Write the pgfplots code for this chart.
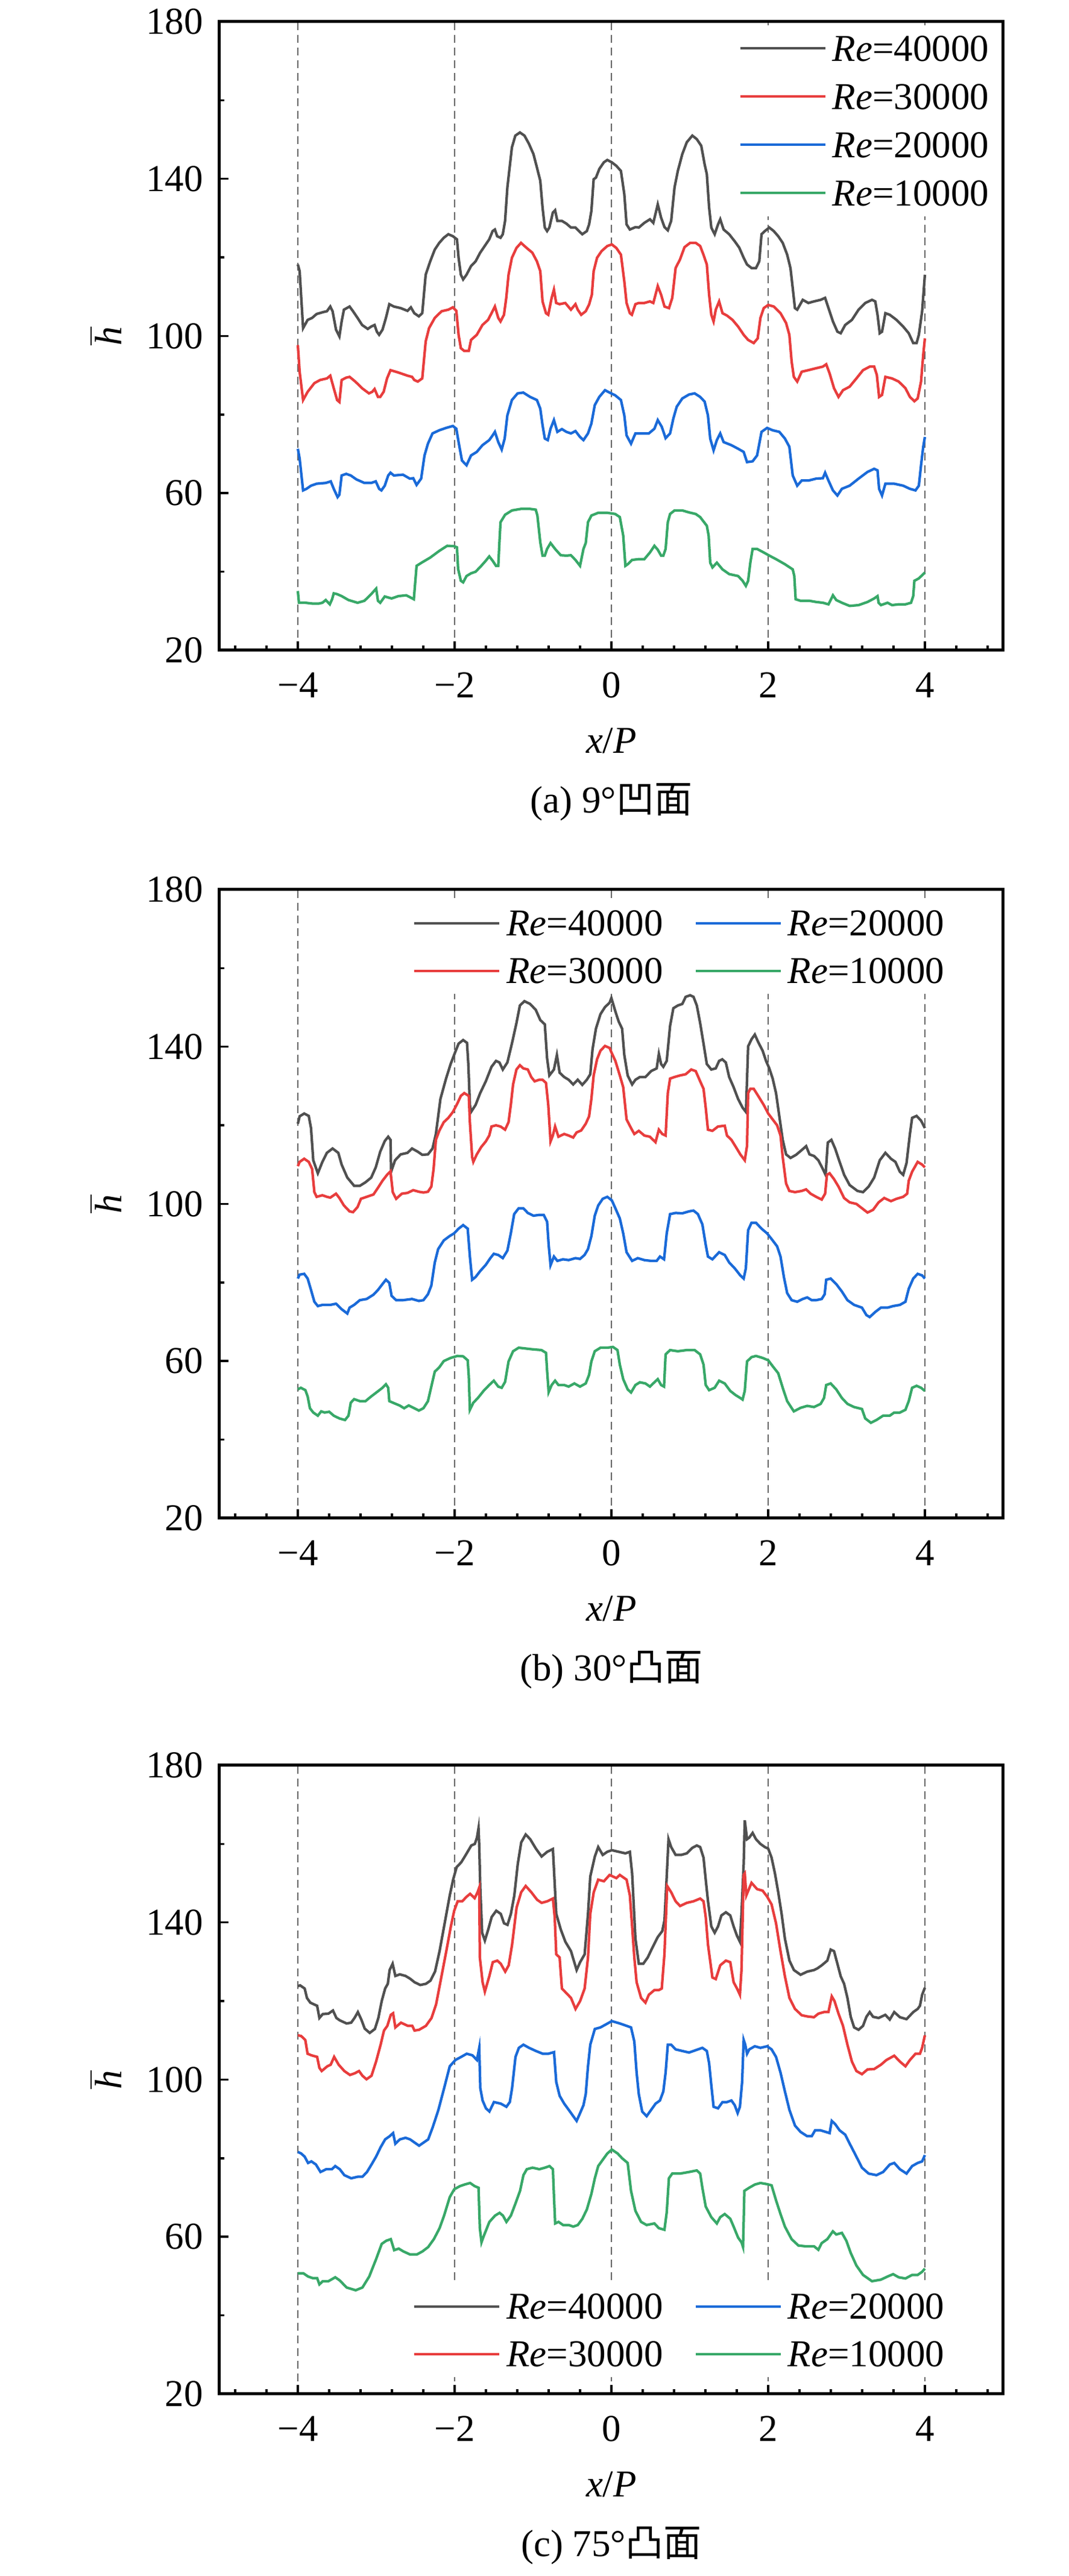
\documentclass[border=0pt]{standalone}
\usepackage{fontspec}
\setmainfont{Liberation Serif}
\newfontfamily\cjk{Noto Sans CJK SC}
\usepackage{pgfplots}
\pgfplotsset{compat=1.18}
\definecolor{cK}{RGB}{80,80,80}
\definecolor{cR}{RGB}{232,61,61}
\definecolor{cB}{RGB}{26,106,216}
\definecolor{cG}{RGB}{56,168,104}
\pgfplotsset{
  panel/.style={
    scale only axis, width=260pt, height=208.6pt,
    anchor=north west,
    xmin=-5, xmax=5, ymin=20, ymax=180,
    xtick={-4,-2,0,2,4}, xticklabels={−4,−2,0,2,4},
    minor xtick={-4.8,-4.4,-3.6,-3.2,-2.8,-2.4,-1.6,-1.2,-0.8,-0.4,0.4,0.8,1.2,1.6,2.4,2.8,3.2,3.6,4.4,4.8},
    ytick={20,60,100,140,180}, yticklabels={20,60,100,140,180},
    minor ytick={40,80,120,160},
    tick pos=left, tick align=inside,
    major tick length=3pt, minor tick length=1.6pt,
    major tick style={black,line width=0.7pt},
    minor tick style={black,line width=0.7pt},
    axis line style={line width=1pt},
    xmajorgrids,
    major grid style={draw=black!60, line width=0.5pt, dash pattern=on 2.6pt off 1.6pt},
    xticklabel style={yshift=-3pt},
    yticklabel style={xshift=-1pt},
    xlabel={\textit{x}/\textit{P}},
    xlabel style={at={(axis description cs:0.5,-0.1438)}, anchor=center},
    ylabel={$\overline{\mbox{\textit{h}}}$},
    ylabel style={at={(axis description cs:-0.1454,0.5)}, anchor=center},
    legend cell align=left,
    legend image code/.code={\draw[#1,line width=0.8pt] (0pt,0pt) -- (28.2pt,0pt);},
  },
  leg/.style={legend style={draw=none, fill=white, inner xsep=3pt, inner ysep=3.5pt,
      nodes={inner sep=0pt, text height=8.3pt, text depth=0pt},
      column sep=2pt, row sep=#1}},
  two/.style={legend columns=2, legend transposed=true,
      legend style={/tikz/every even column/.append style={column sep=10.4pt}}},
  every axis plot/.append style={line width=0.85pt},
}
\begin{document}\fontsize{12.6pt}{15pt}\selectfont
\begin{tikzpicture}
\useasboundingbox (0,0) rectangle (354.4pt,854.8pt);
% ---------------- (a)
\begin{axis}[panel, name=pa, at={(72.8pt,847.6pt)}, leg=7.7pt,
  legend style={at={(0.994,0.995)}, anchor=north east}]
\addplot[cK] coordinates {(-4.000,118.2)(-3.977,116.5)(-3.933,102.0)(-3.875,104.1)(-3.818,104.6)(-3.760,105.6)(-3.673,106.1)(-3.629,106.3)(-3.586,107.5)(-3.557,106.3)(-3.513,101.6)(-3.470,99.9)(-3.441,103.7)(-3.412,106.7)(-3.340,107.5)(-3.296,106.3)(-3.238,104.6)(-3.180,102.8)(-3.108,101.8)(-3.064,102.4)(-3.021,102.8)(-2.992,101.1)(-2.963,100.3)(-2.920,101.6)(-2.876,104.6)(-2.833,108.1)(-2.775,107.5)(-2.688,107.1)(-2.601,106.4)(-2.558,107.3)(-2.514,105.8)(-2.456,105.0)(-2.413,105.8)(-2.369,115.6)(-2.311,119.0)(-2.253,122.0)(-2.196,123.7)(-2.138,125.0)(-2.080,125.9)(-2.022,125.4)(-1.970,124.6)(-1.949,119.9)(-1.920,115.6)(-1.891,114.4)(-1.848,115.6)(-1.790,117.8)(-1.732,119.0)(-1.674,121.2)(-1.616,122.9)(-1.558,124.6)(-1.515,126.7)(-1.486,127.1)(-1.457,125.4)(-1.414,125.0)(-1.385,125.9)(-1.356,129.3)(-1.327,137.8)(-1.298,142.9)(-1.269,148.0)(-1.225,151.0)(-1.167,151.8)(-1.109,151.0)(-1.051,148.9)(-0.994,146.3)(-0.950,142.9)(-0.907,139.5)(-0.878,132.7)(-0.849,127.6)(-0.820,126.7)(-0.791,127.6)(-0.747,131.4)(-0.718,132.0)(-0.689,129.3)(-0.631,129.3)(-0.574,128.6)(-0.516,127.6)(-0.458,127.6)(-0.414,126.7)(-0.371,125.9)(-0.313,126.7)(-0.284,128.4)(-0.255,131.8)(-0.226,139.9)(-0.197,140.3)(-0.154,142.5)(-0.096,144.2)(-0.052,144.8)(0.006,144.2)(0.064,143.3)(0.122,142.0)(0.165,136.1)(0.194,128.4)(0.236,127.1)(0.307,127.7)(0.350,127.6)(0.421,128.8)(0.492,129.7)(0.535,128.8)(0.592,133.5)(0.635,130.1)(0.678,127.7)(0.720,126.9)(0.763,129.3)(0.806,137.8)(0.848,142.0)(0.905,146.3)(0.962,149.3)(1.033,151.0)(1.090,150.1)(1.147,148.4)(1.190,143.7)(1.218,141.2)(1.247,132.7)(1.275,127.6)(1.318,125.9)(1.361,128.4)(1.389,129.7)(1.432,127.1)(1.503,125.9)(1.574,124.1)(1.631,122.5)(1.688,119.9)(1.731,118.2)(1.788,117.3)(1.845,117.3)(1.887,119.0)(1.916,125.9)(1.958,126.7)(2.015,127.6)(2.072,126.7)(2.129,125.4)(2.186,123.7)(2.243,120.7)(2.285,117.3)(2.314,112.2)(2.342,107.1)(2.371,106.7)(2.442,109.2)(2.513,108.4)(2.585,108.8)(2.670,109.2)(2.727,109.7)(2.770,107.1)(2.827,103.7)(2.884,101.1)(2.926,100.7)(2.983,102.8)(3.069,104.1)(3.154,106.7)(3.239,108.4)(3.325,109.2)(3.367,108.8)(3.396,105.4)(3.424,100.7)(3.453,101.1)(3.496,105.8)(3.552,105.4)(3.638,104.1)(3.723,102.4)(3.794,100.7)(3.851,98.2)(3.894,98.2)(3.923,100.3)(3.965,106.3)(4.000,115.6)};
\addlegendentry{\textit{Re}=40000}
\addplot[cR] coordinates {(-4.000,97.7)(-3.977,90.9)(-3.933,83.7)(-3.875,85.8)(-3.789,88.0)(-3.716,88.8)(-3.629,89.2)(-3.586,89.9)(-3.542,86.7)(-3.499,83.7)(-3.470,83.2)(-3.441,88.8)(-3.383,89.4)(-3.340,89.6)(-3.267,88.4)(-3.180,86.7)(-3.093,85.4)(-3.050,85.8)(-3.021,86.5)(-2.978,84.5)(-2.949,84.5)(-2.905,85.8)(-2.862,89.2)(-2.818,91.3)(-2.717,90.7)(-2.601,89.9)(-2.543,89.6)(-2.514,88.8)(-2.470,88.4)(-2.413,89.2)(-2.369,98.6)(-2.326,102.0)(-2.253,104.6)(-2.166,106.3)(-2.080,106.7)(-2.022,107.3)(-1.978,106.4)(-1.949,100.3)(-1.920,96.9)(-1.877,96.2)(-1.819,96.2)(-1.790,99.0)(-1.717,100.3)(-1.645,102.8)(-1.573,104.1)(-1.529,105.8)(-1.486,107.5)(-1.443,104.6)(-1.414,103.7)(-1.370,105.4)(-1.341,109.7)(-1.312,115.6)(-1.269,119.9)(-1.211,122.4)(-1.153,123.7)(-1.080,122.4)(-1.008,121.2)(-0.950,119.0)(-0.907,116.5)(-0.878,108.8)(-0.834,105.8)(-0.805,105.4)(-0.762,109.7)(-0.733,111.8)(-0.704,108.4)(-0.660,108.1)(-0.588,108.4)(-0.516,106.7)(-0.458,108.1)(-0.429,106.7)(-0.385,105.4)(-0.327,106.3)(-0.284,108.0)(-0.249,110.5)(-0.226,116.5)(-0.183,119.9)(-0.125,121.6)(-0.052,122.9)(0.006,123.3)(0.064,122.4)(0.122,120.7)(0.165,113.9)(0.194,108.4)(0.236,105.8)(0.262,105.4)(0.307,108.1)(0.350,108.4)(0.421,108.4)(0.492,108.8)(0.535,108.4)(0.592,112.7)(0.635,110.5)(0.678,107.5)(0.735,107.1)(0.777,109.7)(0.820,117.3)(0.876,119.5)(0.933,122.6)(1.005,123.7)(1.076,123.7)(1.133,122.9)(1.175,120.7)(1.218,118.2)(1.247,110.5)(1.275,105.4)(1.304,103.7)(1.332,106.7)(1.375,108.8)(1.418,105.8)(1.475,105.2)(1.546,104.1)(1.617,102.4)(1.688,100.3)(1.745,99.0)(1.816,98.2)(1.867,99.4)(1.902,104.6)(1.944,107.1)(2.001,107.9)(2.072,107.5)(2.158,105.8)(2.229,103.3)(2.271,100.3)(2.300,93.5)(2.328,89.6)(2.371,88.4)(2.428,90.9)(2.513,91.3)(2.613,91.8)(2.698,92.2)(2.741,92.8)(2.784,90.5)(2.841,86.7)(2.898,84.5)(2.955,86.2)(3.040,87.1)(3.126,89.2)(3.211,91.3)(3.296,92.2)(3.353,92.2)(3.387,90.1)(3.416,84.5)(3.453,85.0)(3.496,89.6)(3.581,89.2)(3.666,88.4)(3.752,86.7)(3.809,84.5)(3.866,83.4)(3.908,84.1)(3.951,88.4)(3.979,95.2)(4.000,99.4)};
\addlegendentry{\textit{Re}=30000}
\addplot[cB] coordinates {(-4.000,71.3)(-3.977,68.8)(-3.933,60.7)(-3.890,61.1)(-3.832,61.9)(-3.760,62.4)(-3.644,62.6)(-3.580,63.0)(-3.542,61.1)(-3.493,59.0)(-3.470,59.6)(-3.441,64.5)(-3.383,64.9)(-3.325,64.5)(-3.253,63.5)(-3.151,62.6)(-3.064,62.6)(-3.006,63.0)(-2.963,61.1)(-2.934,60.7)(-2.891,61.9)(-2.847,64.5)(-2.818,65.2)(-2.775,64.5)(-2.659,64.7)(-2.572,63.7)(-2.528,63.8)(-2.485,62.1)(-2.427,63.7)(-2.384,69.6)(-2.340,72.6)(-2.282,75.2)(-2.196,76.0)(-2.109,76.6)(-2.022,77.1)(-1.978,76.4)(-1.949,73.0)(-1.906,68.3)(-1.848,67.1)(-1.790,69.6)(-1.717,70.5)(-1.645,72.2)(-1.558,73.5)(-1.515,74.7)(-1.486,75.6)(-1.443,73.0)(-1.399,71.1)(-1.361,73.9)(-1.327,79.8)(-1.269,83.7)(-1.196,85.4)(-1.124,85.6)(-1.037,84.5)(-0.950,83.7)(-0.907,81.5)(-0.878,77.3)(-0.849,73.9)(-0.811,73.5)(-0.776,76.4)(-0.733,78.6)(-0.689,75.6)(-0.631,76.3)(-0.574,75.6)(-0.516,75.2)(-0.458,75.8)(-0.400,74.3)(-0.356,73.5)(-0.298,75.2)(-0.255,77.7)(-0.212,82.4)(-0.154,84.5)(-0.081,86.2)(-0.023,85.6)(0.049,84.9)(0.122,83.7)(0.165,79.8)(0.194,74.7)(0.251,72.6)(0.307,75.2)(0.393,75.2)(0.478,75.2)(0.549,76.4)(0.592,78.6)(0.643,76.9)(0.692,74.0)(0.749,75.2)(0.791,79.0)(0.834,82.0)(0.905,84.1)(0.990,85.1)(1.062,85.4)(1.133,84.5)(1.190,83.3)(1.232,79.8)(1.261,73.9)(1.304,70.9)(1.346,73.5)(1.389,75.2)(1.432,73.0)(1.532,72.2)(1.617,71.3)(1.688,70.5)(1.731,67.9)(1.802,68.1)(1.859,69.6)(1.916,75.6)(1.987,76.6)(2.058,76.0)(2.143,75.6)(2.214,73.9)(2.271,71.8)(2.314,64.5)(2.371,61.9)(2.428,63.2)(2.513,63.2)(2.613,63.7)(2.698,63.8)(2.727,65.2)(2.770,63.2)(2.827,60.7)(2.884,59.4)(2.941,61.1)(3.040,61.9)(3.154,63.7)(3.268,65.4)(3.353,66.2)(3.396,65.8)(3.416,61.1)(3.453,59.4)(3.496,62.4)(3.609,62.4)(3.723,61.9)(3.809,61.1)(3.880,60.7)(3.923,61.9)(3.951,67.1)(3.979,71.8)(4.000,74.3)};
\addlegendentry{\textit{Re}=20000}
\addplot[cG] coordinates {(-4.000,35.1)(-3.986,32.1)(-3.904,32.1)(-3.818,31.9)(-3.731,31.9)(-3.687,32.1)(-3.644,32.8)(-3.592,31.7)(-3.563,33.0)(-3.542,34.5)(-3.499,34.3)(-3.441,33.8)(-3.354,32.8)(-3.238,32.1)(-3.151,32.6)(-3.064,34.3)(-3.001,35.7)(-2.978,32.6)(-2.949,32.1)(-2.891,33.7)(-2.804,33.2)(-2.717,33.8)(-2.616,34.0)(-2.558,33.4)(-2.520,33.0)(-2.485,41.5)(-2.413,42.4)(-2.311,43.6)(-2.196,45.3)(-2.094,46.6)(-2.007,46.5)(-1.970,46.2)(-1.955,40.7)(-1.920,37.7)(-1.891,37.3)(-1.848,38.9)(-1.790,39.6)(-1.732,40.0)(-1.660,41.5)(-1.602,42.8)(-1.558,43.9)(-1.515,42.8)(-1.472,41.5)(-1.443,41.5)(-1.428,47.5)(-1.414,52.6)(-1.356,54.5)(-1.269,55.6)(-1.153,56.0)(-1.037,56.0)(-0.965,55.8)(-0.944,54.3)(-0.907,47.5)(-0.878,44.1)(-0.849,44.1)(-0.820,45.8)(-0.776,47.3)(-0.718,45.8)(-0.646,44.2)(-0.574,44.1)(-0.516,44.2)(-0.458,43.0)(-0.400,41.5)(-0.356,45.8)(-0.327,47.3)(-0.298,52.6)(-0.255,54.3)(-0.168,55.0)(-0.052,55.0)(0.049,54.7)(0.108,53.9)(0.151,49.2)(0.179,41.5)(0.208,41.9)(0.265,43.0)(0.350,43.2)(0.421,43.2)(0.492,44.9)(0.549,46.6)(0.592,45.6)(0.635,44.1)(0.663,44.1)(0.692,45.8)(0.720,52.6)(0.749,54.7)(0.806,55.6)(0.905,55.6)(0.991,55.1)(1.076,54.7)(1.133,53.9)(1.218,51.7)(1.241,49.2)(1.261,42.3)(1.290,41.1)(1.346,42.3)(1.418,40.6)(1.503,39.4)(1.617,38.9)(1.674,37.7)(1.716,36.4)(1.745,37.7)(1.773,42.3)(1.802,45.8)(1.859,45.8)(1.944,44.9)(2.015,44.1)(2.101,43.2)(2.215,41.9)(2.314,40.6)(2.334,38.9)(2.351,33.0)(2.414,32.6)(2.528,32.6)(2.613,32.3)(2.699,32.1)(2.770,31.7)(2.798,32.8)(2.827,34.0)(2.869,32.8)(2.941,32.1)(3.040,31.3)(3.154,31.5)(3.268,32.3)(3.353,33.2)(3.396,33.8)(3.410,32.1)(3.439,31.5)(3.524,32.1)(3.581,31.5)(3.666,31.7)(3.752,31.7)(3.823,32.1)(3.851,33.8)(3.866,37.7)(3.923,38.3)(3.980,39.4)(4.000,39.8)};
\addlegendentry{\textit{Re}=10000}
\end{axis}
\node at ([yshift=-50.4pt]pa.south) {(a) 9°{\cjk 凹面}};
% ---------------- (b)
\begin{axis}[panel, name=pb, at={(72.8pt,559.6pt)}, leg=7.5pt, two,
  legend style={at={(0.586,0.984)}, anchor=north}]
\addplot[cK] coordinates {(-4.000,120.4)(-3.977,122.3)(-3.919,123.0)(-3.861,122.4)(-3.832,119.3)(-3.803,111.1)(-3.745,107.8)(-3.687,110.7)(-3.629,113.0)(-3.557,114.1)(-3.484,113.0)(-3.441,110.0)(-3.369,106.7)(-3.282,104.6)(-3.209,104.6)(-3.137,105.5)(-3.064,106.7)(-3.006,109.3)(-2.949,113.3)(-2.891,116.0)(-2.847,117.1)(-2.818,116.3)(-2.810,108.2)(-2.760,111.1)(-2.688,112.6)(-2.601,113.0)(-2.543,114.1)(-2.471,113.3)(-2.413,112.5)(-2.340,112.6)(-2.282,114.1)(-2.239,117.8)(-2.181,126.7)(-2.109,131.9)(-2.051,135.6)(-1.993,138.6)(-1.949,140.8)(-1.891,141.7)(-1.842,141.0)(-1.825,135.6)(-1.805,125.2)(-1.790,123.4)(-1.732,125.2)(-1.674,128.2)(-1.602,131.2)(-1.529,134.9)(-1.472,136.4)(-1.428,136.0)(-1.385,134.2)(-1.327,136.0)(-1.269,140.8)(-1.211,146.0)(-1.167,150.5)(-1.109,151.6)(-1.037,150.9)(-0.965,149.4)(-0.907,146.8)(-0.849,145.7)(-0.820,137.1)(-0.791,132.7)(-0.733,134.2)(-0.695,137.9)(-0.660,133.4)(-0.602,132.3)(-0.545,131.6)(-0.487,130.4)(-0.429,131.6)(-0.371,130.3)(-0.313,131.6)(-0.269,133.0)(-0.240,139.4)(-0.197,144.6)(-0.139,148.3)(-0.081,150.1)(-0.023,151.2)(0.000,152.4)(0.051,149.0)(0.094,146.4)(0.137,144.6)(0.165,137.9)(0.208,132.7)(0.265,130.4)(0.307,131.6)(0.364,132.3)(0.435,132.3)(0.507,133.8)(0.578,134.5)(0.606,138.2)(0.635,135.6)(0.663,134.9)(0.706,136.4)(0.749,145.3)(0.791,149.8)(0.848,150.5)(0.905,150.9)(0.948,152.7)(1.005,153.1)(1.048,152.7)(1.090,150.5)(1.133,146.0)(1.176,140.8)(1.218,135.6)(1.275,134.2)(1.332,134.5)(1.375,136.4)(1.415,136.8)(1.460,136.0)(1.503,132.3)(1.560,129.7)(1.617,126.7)(1.674,124.5)(1.717,123.4)(1.745,140.1)(1.788,141.9)(1.830,143.1)(1.873,141.2)(1.930,139.0)(1.973,136.4)(2.015,134.5)(2.058,131.9)(2.101,128.2)(2.143,122.3)(2.186,116.3)(2.229,112.6)(2.286,111.7)(2.357,112.5)(2.428,113.7)(2.485,114.7)(2.528,112.6)(2.585,112.2)(2.641,111.1)(2.698,108.9)(2.733,107.4)(2.761,115.6)(2.807,116.3)(2.855,114.1)(2.912,110.7)(2.970,107.4)(3.040,104.8)(3.140,103.3)(3.211,103.0)(3.282,104.4)(3.353,106.7)(3.424,111.1)(3.496,113.0)(3.567,111.5)(3.624,110.7)(3.680,108.2)(3.723,107.4)(3.766,110.4)(3.809,117.8)(3.837,121.9)(3.894,122.4)(3.951,121.2)(4.000,119.3)};
\addlegendentry{\textit{Re}=40000}
\addplot[cR] coordinates {(-4.000,109.6)(-3.977,110.7)(-3.919,111.5)(-3.861,110.7)(-3.818,108.9)(-3.789,103.0)(-3.760,101.8)(-3.687,102.2)(-3.629,101.8)(-3.586,101.6)(-3.513,102.6)(-3.470,101.5)(-3.412,99.6)(-3.340,98.1)(-3.296,97.9)(-3.238,99.2)(-3.195,101.3)(-3.122,101.8)(-3.035,102.4)(-2.978,104.1)(-2.920,105.9)(-2.862,107.4)(-2.818,108.3)(-2.789,103.0)(-2.746,101.3)(-2.673,102.6)(-2.601,102.8)(-2.528,103.5)(-2.456,103.1)(-2.398,102.9)(-2.340,103.1)(-2.297,104.4)(-2.268,108.9)(-2.239,116.3)(-2.196,118.6)(-2.138,120.8)(-2.080,121.9)(-2.022,123.4)(-1.964,125.6)(-1.920,127.5)(-1.877,128.2)(-1.819,127.5)(-1.805,120.8)(-1.776,111.9)(-1.761,110.7)(-1.717,112.6)(-1.660,114.5)(-1.602,115.9)(-1.558,117.4)(-1.529,119.7)(-1.472,120.0)(-1.414,119.7)(-1.356,118.9)(-1.312,120.8)(-1.283,125.2)(-1.254,130.4)(-1.211,134.2)(-1.167,135.3)(-1.124,134.5)(-1.066,134.2)(-1.022,132.3)(-0.979,131.2)(-0.921,131.6)(-0.878,131.6)(-0.834,130.8)(-0.805,125.2)(-0.776,115.9)(-0.747,117.4)(-0.718,119.7)(-0.675,117.1)(-0.602,117.8)(-0.545,117.4)(-0.487,116.9)(-0.443,118.2)(-0.385,118.7)(-0.327,120.4)(-0.284,122.3)(-0.255,126.7)(-0.226,132.7)(-0.183,136.8)(-0.139,139.0)(-0.081,140.2)(-0.023,139.7)(0.000,138.6)(0.051,136.4)(0.108,132.7)(0.151,129.7)(0.194,121.5)(0.251,119.3)(0.293,117.8)(0.350,118.6)(0.421,117.4)(0.492,117.1)(0.563,115.7)(0.606,118.9)(0.649,117.8)(0.692,117.4)(0.720,128.2)(0.749,131.9)(0.806,132.3)(0.876,132.7)(0.948,133.0)(1.019,134.2)(1.076,133.8)(1.133,131.2)(1.176,129.3)(1.204,124.5)(1.232,118.9)(1.289,118.6)(1.361,119.7)(1.446,119.9)(1.475,117.4)(1.532,116.3)(1.588,114.5)(1.645,112.6)(1.702,111.1)(1.731,114.8)(1.745,128.2)(1.773,129.3)(1.816,129.3)(1.873,127.5)(1.944,125.2)(2.001,123.0)(2.058,121.5)(2.115,120.0)(2.158,117.4)(2.186,111.9)(2.229,105.2)(2.271,103.3)(2.343,103.0)(2.428,103.3)(2.485,103.7)(2.542,102.6)(2.613,101.8)(2.684,101.1)(2.727,102.6)(2.750,107.4)(2.784,107.8)(2.841,106.3)(2.898,104.4)(2.969,101.5)(3.040,100.4)(3.126,100.0)(3.197,98.9)(3.268,97.8)(3.339,98.5)(3.410,100.4)(3.481,101.5)(3.567,100.7)(3.638,101.3)(3.723,101.8)(3.774,102.6)(3.794,105.9)(3.837,108.2)(3.908,110.7)(3.965,110.0)(4.000,109.3)};
\addlegendentry{\textit{Re}=30000}
\addplot[cB] coordinates {(-4.000,81.0)(-3.977,82.0)(-3.919,82.2)(-3.875,81.0)(-3.832,78.1)(-3.789,75.1)(-3.745,74.0)(-3.687,74.3)(-3.586,74.3)(-3.513,74.6)(-3.441,73.2)(-3.369,72.1)(-3.340,73.6)(-3.282,74.3)(-3.209,75.5)(-3.122,75.8)(-3.035,76.9)(-2.978,78.1)(-2.920,79.6)(-2.876,80.7)(-2.833,79.9)(-2.804,76.6)(-2.746,75.5)(-2.659,75.5)(-2.543,75.8)(-2.456,75.3)(-2.398,75.5)(-2.340,77.0)(-2.297,79.2)(-2.253,85.1)(-2.210,88.5)(-2.138,90.7)(-2.065,91.8)(-2.007,92.5)(-1.949,93.7)(-1.891,94.6)(-1.833,93.7)(-1.805,86.6)(-1.776,80.7)(-1.732,81.4)(-1.674,82.9)(-1.602,84.5)(-1.544,86.2)(-1.500,87.3)(-1.443,87.0)(-1.385,86.2)(-1.327,88.1)(-1.283,92.5)(-1.240,97.4)(-1.182,98.9)(-1.124,98.9)(-1.066,97.7)(-0.994,97.0)(-0.921,97.2)(-0.863,97.2)(-0.820,95.5)(-0.800,89.6)(-0.776,84.4)(-0.733,86.6)(-0.689,85.5)(-0.617,85.9)(-0.545,85.7)(-0.458,86.2)(-0.400,86.0)(-0.342,87.0)(-0.298,88.5)(-0.255,91.8)(-0.212,97.0)(-0.168,99.6)(-0.110,101.3)(-0.052,101.8)(0.006,100.9)(0.051,98.9)(0.108,96.3)(0.151,92.5)(0.194,87.7)(0.265,85.5)(0.336,86.2)(0.421,85.7)(0.507,85.5)(0.578,85.5)(0.620,86.6)(0.672,85.9)(0.706,92.5)(0.749,97.4)(0.820,97.7)(0.905,97.6)(0.991,98.1)(1.048,98.3)(1.104,97.4)(1.161,94.8)(1.204,89.6)(1.232,86.6)(1.289,85.9)(1.375,87.7)(1.446,87.0)(1.503,85.1)(1.574,83.6)(1.645,81.8)(1.688,81.0)(1.716,83.6)(1.745,93.3)(1.788,95.2)(1.845,95.2)(1.916,93.7)(1.987,92.5)(2.058,90.7)(2.115,89.2)(2.158,86.6)(2.201,81.4)(2.243,77.3)(2.300,75.5)(2.371,75.1)(2.442,75.8)(2.499,76.2)(2.556,75.5)(2.613,75.5)(2.684,75.8)(2.721,77.0)(2.741,80.7)(2.798,81.0)(2.869,79.6)(2.941,77.7)(3.012,75.5)(3.097,74.3)(3.197,73.6)(3.254,71.7)(3.296,71.2)(3.367,72.5)(3.439,73.6)(3.524,73.6)(3.595,74.0)(3.681,74.3)(3.752,75.1)(3.794,78.4)(3.851,81.0)(3.908,82.2)(3.965,81.8)(4.000,81.0)};
\addlegendentry{\textit{Re}=20000}
\addplot[cG] coordinates {(-4.000,52.8)(-3.962,53.2)(-3.904,52.6)(-3.875,51.0)(-3.846,48.0)(-3.803,46.9)(-3.745,46.1)(-3.702,47.2)(-3.658,46.9)(-3.600,47.1)(-3.542,46.1)(-3.470,45.4)(-3.398,45.0)(-3.354,46.1)(-3.325,49.4)(-3.282,50.3)(-3.209,49.8)(-3.137,49.8)(-3.064,51.0)(-2.992,52.1)(-2.920,53.2)(-2.876,54.1)(-2.847,53.2)(-2.833,49.8)(-2.775,49.3)(-2.702,48.7)(-2.644,48.0)(-2.586,48.7)(-2.514,48.0)(-2.456,47.4)(-2.398,48.0)(-2.340,49.8)(-2.297,53.5)(-2.253,57.3)(-2.196,58.4)(-2.138,60.0)(-2.051,60.8)(-1.964,61.3)(-1.891,61.2)(-1.833,60.2)(-1.819,56.1)(-1.805,47.6)(-1.761,49.4)(-1.703,50.6)(-1.631,52.4)(-1.558,53.9)(-1.500,55.0)(-1.443,53.5)(-1.399,53.2)(-1.356,54.7)(-1.312,59.9)(-1.254,62.5)(-1.182,63.4)(-1.095,63.2)(-1.008,63.0)(-0.892,62.8)(-0.834,62.1)(-0.820,57.6)(-0.800,52.1)(-0.762,53.9)(-0.718,55.0)(-0.675,53.9)(-0.602,53.9)(-0.545,53.5)(-0.472,54.3)(-0.400,53.5)(-0.327,54.3)(-0.284,56.5)(-0.255,59.9)(-0.212,62.5)(-0.139,63.4)(-0.052,63.4)(0.020,63.6)(0.078,62.8)(0.108,59.1)(0.151,55.4)(0.208,52.8)(0.251,52.0)(0.307,53.9)(0.364,54.6)(0.435,54.3)(0.492,53.5)(0.549,54.6)(0.592,55.4)(0.635,53.9)(0.672,53.5)(0.692,61.7)(0.749,62.8)(0.848,62.5)(0.962,62.8)(1.062,62.8)(1.133,61.7)(1.176,59.1)(1.204,53.9)(1.247,52.6)(1.318,53.2)(1.375,55.0)(1.446,54.3)(1.517,52.4)(1.588,51.3)(1.645,50.6)(1.674,50.2)(1.702,52.4)(1.731,59.9)(1.788,61.0)(1.845,61.3)(1.930,60.8)(2.001,60.2)(2.058,58.7)(2.129,56.9)(2.186,53.2)(2.243,49.8)(2.328,47.2)(2.414,48.1)(2.499,48.6)(2.585,48.3)(2.670,49.1)(2.713,50.6)(2.741,53.9)(2.798,54.3)(2.869,52.8)(2.941,50.6)(3.012,49.1)(3.097,48.3)(3.197,47.8)(3.239,45.4)(3.311,44.3)(3.382,45.0)(3.467,46.1)(3.552,46.1)(3.609,46.9)(3.681,46.9)(3.752,47.6)(3.794,49.8)(3.837,53.2)(3.894,53.7)(3.951,53.2)(4.000,52.4)};
\addlegendentry{\textit{Re}=10000}
\end{axis}
\node at ([yshift=-50.4pt]pb.south) {(b) 30°{\cjk 凸面}};
% ---------------- (c)
\begin{axis}[panel, name=pc, at={(72.8pt,269.0pt)}, leg=7.5pt, two,
  legend style={at={(0.586,0.026)}, anchor=south}]
\addplot[cK] coordinates {(-4.000,123.8)(-3.971,124.0)(-3.913,123.2)(-3.884,120.8)(-3.841,119.6)(-3.754,118.8)(-3.725,115.7)(-3.682,116.7)(-3.610,116.8)(-3.552,117.6)(-3.508,115.7)(-3.465,115.1)(-3.378,114.3)(-3.320,114.5)(-3.277,115.7)(-3.234,117.2)(-3.190,115.3)(-3.147,113.0)(-3.083,111.9)(-3.017,112.9)(-2.973,115.7)(-2.930,120.0)(-2.886,123.2)(-2.852,124.4)(-2.829,127.9)(-2.791,129.5)(-2.756,126.4)(-2.698,126.8)(-2.626,126.4)(-2.568,125.7)(-2.511,124.8)(-2.438,124.1)(-2.366,124.4)(-2.308,125.2)(-2.250,127.5)(-2.192,132.7)(-2.134,139.0)(-2.062,146.9)(-2.019,150.9)(-1.974,154.1)(-1.916,155.3)(-1.858,157.2)(-1.787,159.6)(-1.742,160.0)(-1.715,161.6)(-1.695,164.0)(-1.686,159.6)(-1.672,148.5)(-1.649,137.4)(-1.614,135.4)(-1.571,138.2)(-1.527,141.4)(-1.469,143.0)(-1.411,142.2)(-1.369,139.8)(-1.325,139.4)(-1.282,142.2)(-1.238,146.9)(-1.194,154.9)(-1.150,160.4)(-1.093,162.4)(-1.035,161.2)(-0.963,158.8)(-0.890,156.8)(-0.818,158.0)(-0.746,158.7)(-0.732,153.3)(-0.703,142.2)(-0.645,138.2)(-0.587,135.1)(-0.515,132.7)(-0.443,127.9)(-0.399,129.9)(-0.341,131.9)(-0.298,142.2)(-0.269,151.7)(-0.211,156.8)(-0.168,159.2)(-0.110,157.2)(-0.052,158.0)(0.006,158.4)(0.093,158.0)(0.179,157.6)(0.236,158.0)(0.265,152.5)(0.307,135.9)(0.350,129.5)(0.407,129.5)(0.464,131.1)(0.521,133.5)(0.592,136.3)(0.649,137.8)(0.678,140.6)(0.706,151.7)(0.729,161.2)(0.763,159.2)(0.820,157.2)(0.891,157.2)(0.962,157.6)(1.033,159.0)(1.090,159.6)(1.133,159.2)(1.176,156.5)(1.204,150.9)(1.233,145.4)(1.275,139.0)(1.318,137.4)(1.361,139.0)(1.404,141.8)(1.461,142.6)(1.517,141.8)(1.560,139.0)(1.603,136.6)(1.640,135.1)(1.660,142.2)(1.688,154.9)(1.702,166.0)(1.731,161.2)(1.759,161.6)(1.802,162.8)(1.845,161.2)(1.902,160.0)(1.958,159.2)(2.001,158.8)(2.044,156.5)(2.087,152.5)(2.129,147.7)(2.172,142.2)(2.214,135.9)(2.272,130.3)(2.329,127.9)(2.414,126.7)(2.499,127.5)(2.585,127.9)(2.627,128.3)(2.684,129.1)(2.755,130.3)(2.798,133.1)(2.841,132.7)(2.884,129.5)(2.926,126.3)(2.969,124.4)(3.012,120.8)(3.054,116.0)(3.097,113.3)(3.154,112.7)(3.211,113.7)(3.254,116.0)(3.296,117.2)(3.339,116.0)(3.410,115.7)(3.495,116.5)(3.552,115.3)(3.609,117.2)(3.681,115.9)(3.766,115.4)(3.851,117.2)(3.908,118.0)(3.937,118.8)(3.965,121.6)(4.000,123.4)};
\addlegendentry{\textit{Re}=40000}
\addplot[cR] coordinates {(-4.000,111.3)(-3.957,111.1)(-3.905,110.1)(-3.876,106.6)(-3.827,106.2)(-3.754,105.8)(-3.725,103.0)(-3.696,102.2)(-3.624,103.4)(-3.581,103.8)(-3.537,105.8)(-3.479,103.8)(-3.407,102.2)(-3.335,101.2)(-3.277,101.6)(-3.219,102.2)(-3.176,101.0)(-3.124,100.1)(-3.060,101.0)(-3.002,104.6)(-2.944,108.9)(-2.901,112.5)(-2.858,113.7)(-2.814,116.5)(-2.785,116.9)(-2.756,113.3)(-2.684,114.5)(-2.597,113.7)(-2.540,113.7)(-2.511,112.5)(-2.453,112.7)(-2.366,113.7)(-2.294,115.7)(-2.236,119.2)(-2.178,125.2)(-2.106,132.7)(-2.048,139.0)(-2.005,143.0)(-1.961,145.4)(-1.903,145.4)(-1.845,146.6)(-1.802,147.3)(-1.744,146.2)(-1.707,147.7)(-1.686,148.9)(-1.678,131.1)(-1.643,124.8)(-1.614,122.4)(-1.556,126.4)(-1.513,129.9)(-1.455,130.3)(-1.411,129.5)(-1.354,127.5)(-1.310,129.1)(-1.267,134.3)(-1.209,143.8)(-1.151,147.7)(-1.093,149.3)(-1.021,147.7)(-0.948,145.8)(-0.890,145.0)(-0.818,145.4)(-0.746,146.1)(-0.723,141.4)(-0.703,131.9)(-0.660,131.1)(-0.631,123.2)(-0.573,122.0)(-0.515,120.8)(-0.457,118.0)(-0.399,120.0)(-0.341,123.2)(-0.298,131.1)(-0.269,142.2)(-0.225,147.7)(-0.168,150.9)(-0.095,150.5)(-0.023,152.1)(0.064,151.3)(0.108,152.1)(0.194,150.9)(0.236,146.9)(0.265,139.0)(0.293,131.1)(0.322,124.8)(0.379,120.8)(0.435,119.6)(0.478,121.6)(0.549,122.8)(0.606,122.8)(0.643,123.2)(0.677,131.9)(0.712,149.3)(0.763,147.7)(0.820,145.4)(0.877,144.2)(0.962,145.0)(1.048,145.4)(1.133,146.1)(1.176,145.4)(1.204,141.4)(1.233,134.3)(1.289,126.0)(1.332,125.6)(1.389,129.1)(1.461,130.3)(1.517,129.9)(1.560,124.8)(1.603,123.2)(1.640,121.6)(1.660,127.9)(1.688,152.1)(1.702,152.5)(1.722,146.9)(1.788,150.1)(1.859,148.5)(1.930,148.1)(1.987,146.6)(2.044,144.6)(2.101,139.8)(2.158,132.7)(2.214,126.3)(2.272,120.8)(2.343,118.0)(2.428,116.4)(2.499,116.1)(2.585,115.9)(2.641,116.8)(2.712,117.2)(2.769,117.2)(2.812,121.2)(2.847,120.0)(2.898,116.8)(2.955,113.7)(3.012,108.9)(3.069,104.6)(3.126,102.2)(3.197,101.4)(3.268,102.6)(3.353,102.7)(3.439,103.8)(3.509,105.0)(3.609,106.1)(3.681,104.6)(3.752,103.4)(3.809,105.0)(3.880,106.6)(3.937,106.6)(3.965,108.1)(4.000,111.3)};
\addlegendentry{\textit{Re}=30000}
\addplot[cB] coordinates {(-4.000,81.6)(-3.957,81.2)(-3.913,80.4)(-3.870,78.8)(-3.827,79.2)(-3.769,78.4)(-3.711,76.5)(-3.639,77.2)(-3.566,77.2)(-3.523,78.0)(-3.465,77.2)(-3.407,75.7)(-3.320,74.9)(-3.234,75.3)(-3.176,75.3)(-3.118,76.5)(-3.060,78.4)(-3.002,80.4)(-2.944,82.8)(-2.886,84.8)(-2.829,85.6)(-2.785,86.4)(-2.756,83.7)(-2.698,84.8)(-2.626,85.2)(-2.568,84.8)(-2.511,84.0)(-2.453,83.2)(-2.395,84.0)(-2.337,84.8)(-2.279,87.9)(-2.207,92.3)(-2.134,97.8)(-2.062,103.4)(-1.990,105.0)(-1.916,105.8)(-1.845,106.6)(-1.773,106.2)(-1.715,105.0)(-1.686,108.1)(-1.672,97.8)(-1.643,94.7)(-1.600,92.7)(-1.556,91.9)(-1.498,94.3)(-1.411,93.9)(-1.339,93.1)(-1.296,94.3)(-1.267,97.8)(-1.223,105.8)(-1.180,108.1)(-1.122,108.9)(-1.050,108.1)(-0.963,107.3)(-0.876,106.6)(-0.804,106.6)(-0.732,107.0)(-0.703,99.4)(-0.660,95.9)(-0.602,93.9)(-0.529,91.9)(-0.486,90.7)(-0.443,89.5)(-0.399,91.5)(-0.356,93.5)(-0.327,96.3)(-0.298,103.4)(-0.269,108.9)(-0.211,112.9)(-0.139,113.3)(-0.066,114.1)(0.006,114.9)(0.108,114.3)(0.194,113.7)(0.251,113.3)(0.293,109.7)(0.322,101.8)(0.350,96.3)(0.393,91.9)(0.450,90.7)(0.507,92.3)(0.564,93.9)(0.620,94.7)(0.663,97.0)(0.692,101.8)(0.720,108.9)(0.763,108.9)(0.820,107.7)(0.905,107.3)(0.991,106.9)(1.076,107.5)(1.161,108.1)(1.218,107.3)(1.247,104.2)(1.275,98.6)(1.304,93.1)(1.361,92.7)(1.418,94.3)(1.475,94.3)(1.532,94.7)(1.574,93.5)(1.611,91.5)(1.640,93.1)(1.668,99.4)(1.688,110.1)(1.708,108.9)(1.731,106.6)(1.759,107.7)(1.830,108.5)(1.902,108.1)(1.987,108.5)(2.044,107.7)(2.101,105.8)(2.158,101.8)(2.214,97.0)(2.272,92.3)(2.343,88.3)(2.414,86.7)(2.499,85.6)(2.556,85.6)(2.599,87.1)(2.670,87.1)(2.784,86.4)(2.812,89.5)(2.855,88.7)(2.912,87.1)(2.983,86.0)(3.054,83.2)(3.126,80.4)(3.197,77.6)(3.282,76.1)(3.382,75.7)(3.467,76.5)(3.552,78.4)(3.609,78.8)(3.681,77.2)(3.766,76.1)(3.837,78.0)(3.908,78.8)(3.965,79.2)(4.000,80.8)};
\addlegendentry{\textit{Re}=20000}
\addplot[cG] coordinates {(-4.000,50.7)(-3.928,50.7)(-3.870,49.9)(-3.812,49.5)(-3.754,49.5)(-3.725,47.9)(-3.682,48.7)(-3.610,48.7)(-3.523,49.7)(-3.465,48.9)(-3.378,47.1)(-3.262,46.4)(-3.176,47.1)(-3.089,49.9)(-3.002,54.3)(-2.930,58.2)(-2.872,59.0)(-2.814,59.4)(-2.771,56.6)(-2.713,57.0)(-2.655,56.3)(-2.568,55.5)(-2.482,55.5)(-2.409,56.3)(-2.337,57.4)(-2.265,59.4)(-2.192,62.2)(-2.134,65.4)(-2.062,70.1)(-2.005,72.1)(-1.932,72.9)(-1.874,73.3)(-1.802,73.7)(-1.744,72.9)(-1.695,72.5)(-1.678,62.2)(-1.657,58.6)(-1.628,60.2)(-1.556,63.8)(-1.484,65.4)(-1.426,66.1)(-1.383,65.4)(-1.339,63.8)(-1.282,65.4)(-1.223,68.5)(-1.165,71.7)(-1.122,75.7)(-1.079,77.2)(-1.006,77.6)(-0.919,77.2)(-0.847,77.6)(-0.789,78.0)(-0.746,77.2)(-0.732,70.1)(-0.717,63.4)(-0.674,63.8)(-0.616,63.0)(-0.544,63.0)(-0.486,62.6)(-0.428,63.0)(-0.370,64.6)(-0.312,67.0)(-0.255,70.9)(-0.211,74.9)(-0.168,78.0)(-0.110,79.6)(-0.052,81.2)(0.006,82.2)(0.080,81.2)(0.137,80.0)(0.208,78.8)(0.251,71.7)(0.307,66.6)(0.379,63.8)(0.450,63.0)(0.549,63.4)(0.606,62.2)(0.677,61.8)(0.706,66.2)(0.734,74.9)(0.777,76.1)(0.877,76.1)(0.991,76.5)(1.090,76.9)(1.133,76.1)(1.161,72.5)(1.204,67.7)(1.275,65.0)(1.346,63.4)(1.389,65.0)(1.446,65.8)(1.517,64.6)(1.560,62.6)(1.617,59.8)(1.660,58.6)(1.680,57.4)(1.697,71.7)(1.759,72.5)(1.830,73.3)(1.902,73.7)(1.987,73.4)(2.044,73.1)(2.101,69.3)(2.158,65.8)(2.214,62.6)(2.300,59.4)(2.385,57.8)(2.471,57.6)(2.585,57.6)(2.641,56.7)(2.684,58.4)(2.755,59.4)(2.826,61.4)(2.869,60.6)(2.941,61.0)(2.998,59.0)(3.054,55.9)(3.126,52.7)(3.211,50.3)(3.325,48.7)(3.439,49.1)(3.524,49.9)(3.595,50.5)(3.666,49.7)(3.752,49.4)(3.837,50.3)(3.908,50.3)(3.965,51.1)(4.000,51.9)};
\addlegendentry{\textit{Re}=10000}
\end{axis}
\node at ([yshift=-50.4pt]pc.south) {(c) 75°{\cjk 凸面}};
\end{tikzpicture}
\end{document}
